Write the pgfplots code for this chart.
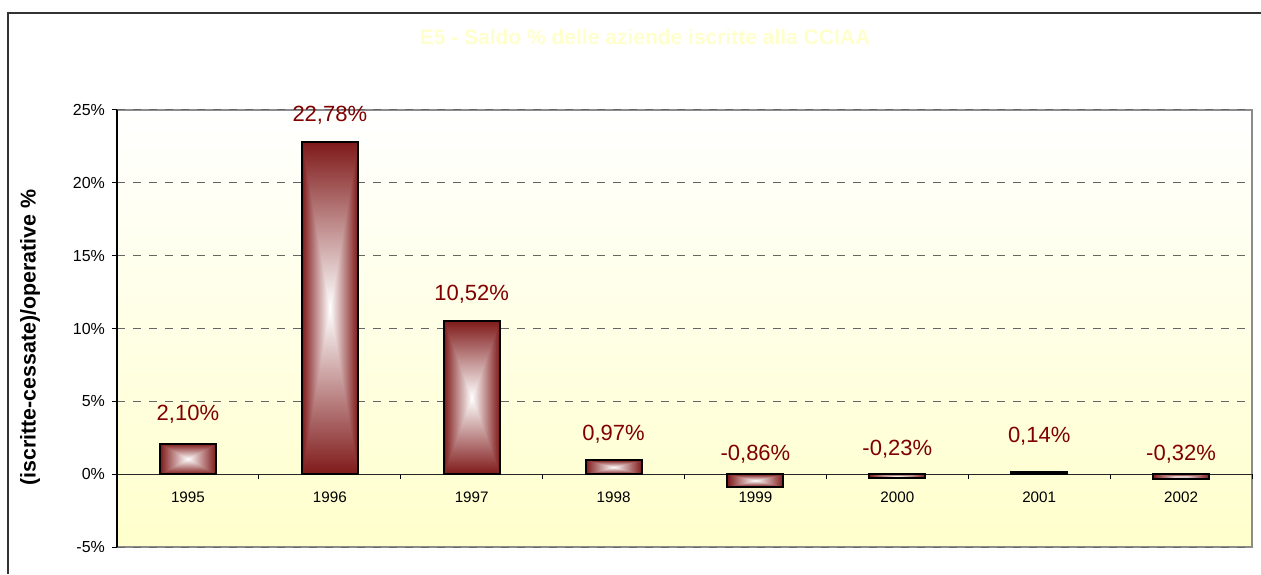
\documentclass[border=0pt]{standalone}
\usepackage{fontspec}
\setmainfont{Liberation Sans}
\usepackage{pgfplots}
\usepackage{pgfplotstable}
\pgfplotsset{compat=1.18}
\definecolor{labred}{HTML}{800000}
\definecolor{barred}{HTML}{80181A}
\definecolor{bgyellow}{HTML}{FFFFCC}
\definecolor{gridgray}{HTML}{666666}
\definecolor{boxgray}{HTML}{8C8C8C}

% rectangular gradient: white centre, dark red edges
\pgfdeclarefunctionalshading{boxred}{\pgfpoint{-50bp}{-50bp}}{\pgfpoint{50bp}{50bp}}{}{
  abs exch abs 2 copy sub abs add add 2 div
  25 div dup 1 sub abs neg add 1 add 2 div
  dup 0.5 mul 1 exch sub
  exch dup 0.9 mul 1 exch sub
  exch 0.9 mul 1 exch sub
}

% one path per bar, so that each bar gets its own shading
\pgfplotsset{saldobar/.style={ybar,bar width=28pt,draw=black,line width=1pt,shading=boxred}}

\pgfplotstableread{
x val lab ly
1 2.10 2,10\% 4.12
2 22.78 22,78\% 24.64
3 10.52 10,52\% 12.35
4 0.97 0,97\% 2.75
5 -0.86 -0,86\% 1.37
6 -0.23 -0,23\% 1.72
7 0.14 0,14\% 2.61
8 -0.32 -0,32\% 1.37
}\saldo

\begin{document}
\begin{tikzpicture}
\path[use as bounding box] (0pt,0pt) rectangle (630.5pt,287pt);
\draw[line width=1pt,black!80] (4pt,0pt) -- (4pt,280.5pt) -- (631pt,280.5pt);
\node[font=\bfseries\fontsize{10.5}{12}\selectfont,text=bgyellow] at (322.5pt,268.5pt)
  {E5 - Saldo \% delle aziende iscritte alla CCIAA};
\node[font=\bfseries\fontsize{10.7}{12}\selectfont,rotate=90] at (15pt,118.25pt)
  {(iscritte-cessate)/operative \%};
\begin{axis}[
  at={(58.5pt,13.5pt)},anchor=south west,
  scale only axis,width=567.5pt,height=218.5pt,
  xmin=0.5,xmax=8.5,ymin=-5,ymax=25,
  clip=false,
  axis background/.style={top color=white,bottom color=bgyellow,draw=boxgray,line width=0.8pt},
  axis x line*=middle,axis y line*=left,
  x axis line style={black!85,line width=0.5pt},
  y axis line style={black,line width=0.8pt},
  tick align=outside,
  major tick length=2.5pt,minor tick length=2.5pt,
  xtick={1,...,8},
  xticklabels={1995,1996,1997,1998,1999,2000,2001,2002},
  major x tick style={draw=none},
  minor xtick={0.5,1.5,...,8.5},
  minor x tick style={black,line width=0.5pt},
  ytick={-5,0,...,25},
  yticklabel={\pgfmathprintnumber{\tick}\%},
  y tick style={black,line width=0.5pt},
  /pgf/number format/assume math mode=true,
  xticklabel style={font=\fontsize{7.6}{9}\selectfont,yshift=-3pt},
  yticklabel style={font=\fontsize{8}{9}\selectfont},
  ymajorgrids,
  major y grid style={gridgray,dash pattern=on 4pt off 4pt,line width=0.5pt},
]
\addplot[saldobar] coordinates {(1,2.10)};
\addplot[saldobar] coordinates {(2,22.78)};
\addplot[saldobar] coordinates {(3,10.52)};
\addplot[saldobar] coordinates {(4,0.97)};
\addplot[saldobar] coordinates {(5,-0.86)};
\addplot[saldobar] coordinates {(6,-0.23)};
\addplot[saldobar] coordinates {(7,0.14)};
\addplot[saldobar] coordinates {(8,-0.32)};
\addplot[draw=none,nodes near coords,point meta=explicit symbolic,
  every node near coord/.append style={anchor=center,text=labred,
    font=\fontsize{11}{12}\selectfont}]
  table[x=x,y=ly,meta=lab] {\saldo};
\end{axis}
\end{tikzpicture}
\end{document}
